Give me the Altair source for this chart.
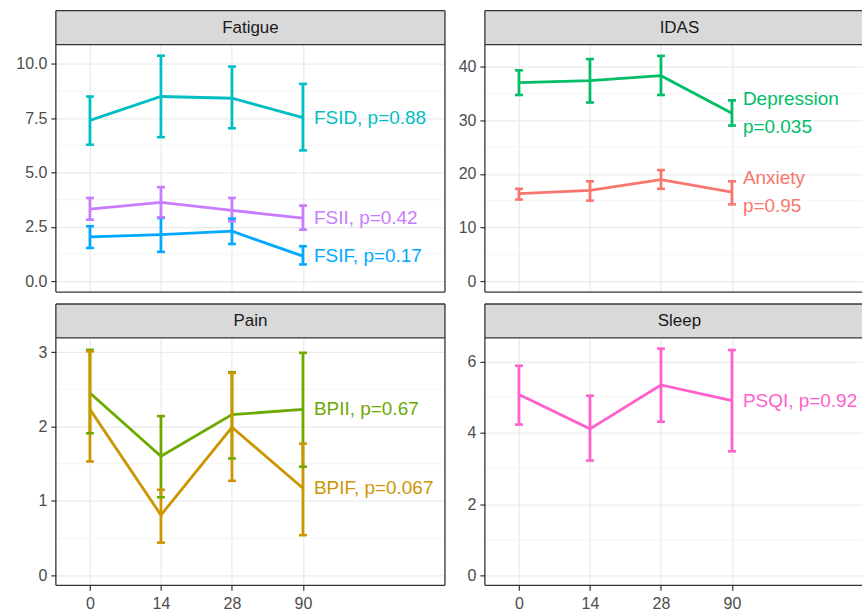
import altair as alt
import pandas as pd

FONT = "Liberation Sans"

time_labels = ["0", "14", "28", "90"]

# ---- Fatigue ----
fsid_mean = [7.40, 8.50, 8.42, 7.53]
fsid_lo = [6.28, 6.63, 7.04, 6.02]
fsid_hi = [8.50, 10.38, 9.88, 9.08]
fsii_mean = [3.32, 3.63, 3.26, 2.90]
fsii_lo = [2.83, 2.94, 2.76, 2.37]
fsii_hi = [3.83, 4.33, 3.83, 3.48]
fsif_mean = [2.04, 2.14, 2.30, 1.15]
fsif_lo = [1.53, 1.35, 1.71, 0.77]
fsif_hi = [2.53, 2.91, 2.88, 1.61]

# ---- IDAS ----
dep_mean = [37.0, 37.4, 38.3, 31.3]
dep_lo = [34.7, 33.3, 34.7, 29.0]
dep_hi = [39.3, 41.4, 42.0, 33.7]
anx_mean = [16.3, 16.9, 18.9, 16.6]
anx_lo = [15.2, 15.0, 17.2, 14.3]
anx_hi = [17.2, 18.6, 20.7, 18.6]

# ---- Pain ----
bpii_mean = [2.45, 1.60, 2.16, 2.23]
bpii_lo = [1.91, 1.05, 1.57, 1.46]
bpii_hi = [3.03, 2.14, 2.73, 2.99]
bpif_mean = [2.23, 0.81, 1.99, 1.17]
bpif_lo = [1.53, 0.44, 1.27, 0.54]
bpif_hi = [3.01, 1.15, 2.72, 1.77]

# ---- Sleep ----
psqi_mean = [5.07, 4.11, 5.34, 4.90]
psqi_lo = [4.23, 3.22, 4.31, 3.48]
psqi_hi = [5.88, 5.04, 6.36, 6.32]

series_order = ["Anxiety", "BPIF", "BPII", "Depression", "FSID", "FSIF", "FSII", "PSQI"]
series_colors = ["#F8766D", "#CD9600", "#6DAA00", "#00BE67", "#00BFC4", "#00A9FF", "#C77CFF", "#FF61CC"]

series_labels = {
    "FSID": "FSID, p=0.88",
    "FSII": "FSII, p=0.42",
    "FSIF": "FSIF, p=0.17",
    "Depression": "Depression\np=0.035",
    "Anxiety": "Anxiety\np=0.95",
    "BPII": "BPII, p=0.67",
    "BPIF": "BPIF, p=0.067",
    "PSQI": "PSQI, p=0.92",
}


def make_df(items):
    rows = []
    for name, m, lo, hi in items:
        for i in range(4):
            rows.append({"series": name, "t": i + 1, "mean": m[i], "lo": lo[i], "hi": hi[i],
                         "label": series_labels[name]})
    return pd.DataFrame(rows)


df_fat = make_df([("FSID", fsid_mean, fsid_lo, fsid_hi),
                  ("FSII", fsii_mean, fsii_lo, fsii_hi),
                  ("FSIF", fsif_mean, fsif_lo, fsif_hi)])
df_idas = make_df([("Depression", dep_mean, dep_lo, dep_hi),
                   ("Anxiety", anx_mean, anx_lo, anx_hi)])
df_pain = make_df([("BPII", bpii_mean, bpii_lo, bpii_hi),
                   ("BPIF", bpif_mean, bpif_lo, bpif_hi)])
df_sleep = make_df([("PSQI", psqi_mean, psqi_lo, psqi_hi)])

H = 248
FULL_W = 390
UNIT = FULL_W / 5.48
label_expr = "[" + ",".join("'%s'" % s for s in time_labels) + "][datum.value - 1]"

GRID = "#EBEBEB"
DARK = "#333333"


def panel(df, strip, ydom, yvals, yfmt, minor, width, bottom, label_dy=0):
    xdom = [0.52, 0.52 + width / UNIT]
    if bottom:
        xaxis = alt.Axis(values=[1, 2, 3, 4], labelExpr=label_expr, title=None, grid=True,
                         gridColor=GRID, gridWidth=1.3, domain=False, tickColor=DARK,
                         tickSize=5, tickWidth=1.2, labelPadding=5, labelFontSize=16,
                         labelColor="#4D4D4D", labelFont=FONT)
    else:
        xaxis = alt.Axis(values=[1, 2, 3, 4], labels=False, ticks=False, domain=False,
                         title=None, grid=True, gridColor=GRID, gridWidth=1.3)
    x = alt.X("t:Q", scale=alt.Scale(domain=xdom, nice=False, zero=False), axis=xaxis)
    yaxis = alt.Axis(values=yvals, format=yfmt, title=None, grid=True, gridColor=GRID,
                     gridWidth=1.3, domain=False, tickColor=DARK, tickSize=5, tickWidth=1.2,
                     labelPadding=4, labelFontSize=16, labelColor="#4D4D4D", labelFont=FONT)
    yscale = alt.Scale(domain=ydom, nice=False, zero=False)
    color = alt.Color("series:N", scale=alt.Scale(domain=series_order, range=series_colors),
                      legend=None)

    one = pd.DataFrame({"s": [strip]})

    minor_layer = alt.Chart(pd.DataFrame({"v": minor})).mark_rule(
        color="#F2F2F2", strokeWidth=0.8).encode(
        y=alt.Y("v:Q", scale=yscale, axis=yaxis), x=alt.value(0), x2=alt.value(width))

    base = alt.Chart(df)
    line = base.mark_line(strokeWidth=2.8).encode(
        x=x, y=alt.Y("mean:Q", scale=yscale, axis=yaxis), color=color)
    err = base.mark_rule(strokeWidth=2.8).encode(
        x=x, y=alt.Y("lo:Q", scale=yscale, axis=yaxis), y2="hi:Q", color=color)
    cap_hi = base.mark_rule(strokeWidth=2.6, xOffset=-4, x2Offset=4).encode(
        x=x, x2=alt.X2("t:Q"), y=alt.Y("hi:Q", scale=yscale, axis=yaxis), color=color)
    cap_lo = base.mark_rule(strokeWidth=2.6, xOffset=-4, x2Offset=4).encode(
        x=x, x2=alt.X2("t:Q"), y=alt.Y("lo:Q", scale=yscale, axis=yaxis), color=color)
    text = base.transform_filter("datum.t == 4").mark_text(
        align="left", baseline="middle", dx=11, dy=label_dy, fontSize=19, font=FONT,
        lineBreak="\n", lineHeight=28).encode(
        x=x, y=alt.Y("mean:Q", scale=yscale, axis=yaxis), text="label:N", color=color)

    border_l = alt.Chart(one).mark_rule(color=DARK, strokeWidth=1.3).encode(
        x=alt.value(0), y=alt.value(-34), y2=alt.value(H))
    border_t = alt.Chart(one).mark_rule(color=DARK, strokeWidth=1.3).encode(
        x=alt.value(0), x2=alt.value(width), y=alt.value(0))
    border_b = alt.Chart(one).mark_rule(color=DARK, strokeWidth=1.3).encode(
        x=alt.value(0), x2=alt.value(width), y=alt.value(H))
    strip_top = alt.Chart(one).mark_rule(color=DARK, strokeWidth=1.3).encode(
        x=alt.value(0), x2=alt.value(width), y=alt.value(-34))
    strip_rect = alt.Chart(one).mark_rect(fill="#D9D9D9").encode(
        x=alt.value(0), x2=alt.value(width), y=alt.value(-34), y2=alt.value(0))
    strip_text = alt.Chart(one).mark_text(
        fontSize=17, font=FONT, color="#1A1A1A", baseline="middle").encode(
        x=alt.value(FULL_W / 2), y=alt.value(-16.5), text="s:N")

    layers = [minor_layer, line, err, cap_hi, cap_lo, text, strip_rect, strip_text,
              border_t, border_b, strip_top, border_l]
    if width >= FULL_W:
        border_r = alt.Chart(one).mark_rule(color=DARK, strokeWidth=1.3).encode(
            x=alt.value(width), y=alt.value(-34), y2=alt.value(H))
        layers.append(border_r)
    return alt.layer(*layers).properties(width=width, height=H)


RW = 378
fat = panel(df_fat, "Fatigue", [-0.5, 10.89], [0, 2.5, 5, 7.5, 10], ".1f",
            [1.25, 3.75, 6.25, 8.75], FULL_W, False)
idas = panel(df_idas, "IDAS", [-2.05, 44.1], [0, 10, 20, 30, 40], "d",
             [5, 15, 25, 35], RW, False, label_dy=-14)
pain = panel(df_pain, "Pain", [-0.134, 3.19], [0, 1, 2, 3], "d",
             [0.5, 1.5, 2.5], FULL_W, True)
sleep = panel(df_sleep, "Sleep", [-0.28, 6.66], [0, 2, 4, 6], "d",
              [1, 3, 5], RW, True)

chart = alt.concat(
    fat, idas, pain, sleep, columns=2, bounds="flush",
    spacing=alt.RowColnumber(row=46, column=40),
).resolve_scale(
    x="independent", y="independent"
).properties(
    padding={"left": 15, "top": 9, "right": 0, "bottom": 0},
    background="white",
).configure_view(stroke=None)

chart.save("out.html", embed_options={"renderer": "svg", "actions": False})
